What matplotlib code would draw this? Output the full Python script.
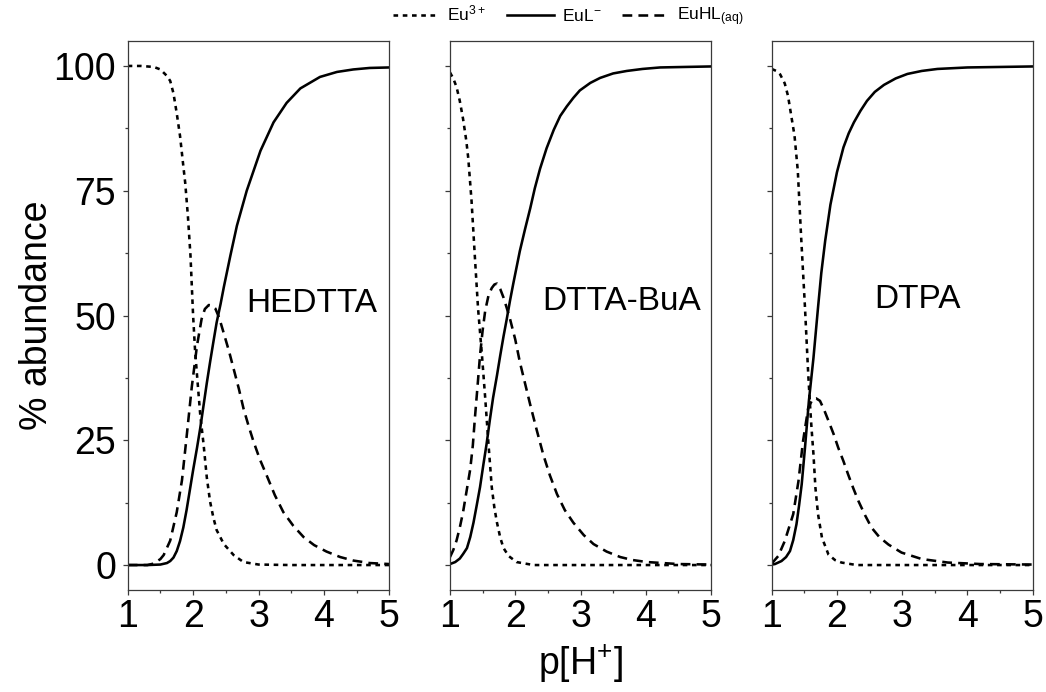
import matplotlib
matplotlib.use("Agg")
import matplotlib.pyplot as plt
from matplotlib.lines import Line2D
from matplotlib.ticker import MultipleLocator

plt.rcParams['font.family'] = ['Liberation Sans', 'DejaVu Sans']
plt.rcParams['mathtext.default'] = 'regular'

# ---------------- data ----------------
panel_names = ["HEDTTA", "DTTA-BuA", "DTPA"]
series_labels = ["Eu$^{3+}$", "EuL$^{-}$", "EuHL$_{(aq)}$"]
x_ticks = [1, 2, 3, 4, 5]
y_ticks = [0, 25, 50, 75, 100]

# HEDTTA
hed_eu_x = [1.0, 1.2, 1.4, 1.5, 1.6, 1.65, 1.7, 1.75, 1.8, 1.85, 1.88, 1.92, 1.96, 2.0, 2.03, 2.07,
            2.11, 2.16, 2.21, 2.26, 2.31, 2.36, 2.47, 2.62, 2.77, 3.0, 3.5, 4.0, 4.5, 5.0]
hed_eu_y = [100, 100, 99.8, 99.3, 98, 97, 94.5, 90.5, 86, 80, 76.5, 70, 62, 50, 43, 36.4,
            30, 24.2, 17.5, 12.7, 9.5, 7, 4.2, 2, 0.6, 0.1, 0, 0, 0, 0]
hed_l_x = [1.0, 1.3, 1.5, 1.6, 1.65, 1.7, 1.75, 1.8, 1.85, 1.9, 1.95, 2.0, 2.06, 2.11, 2.16, 2.21,
           2.26, 2.31, 2.36, 2.42, 2.47, 2.57, 2.67, 2.82, 3.03, 3.23, 3.43, 3.64, 3.94, 4.2, 4.45,
           4.7, 5.0]
hed_l_y = [0, 0, 0.1, 0.4, 0.8, 1.5, 2.8, 4.8, 7.5, 11, 15, 19, 23.5, 27.5, 32, 36.5,
           40.7, 44.7, 48.6, 52.3, 55.7, 62, 68, 75, 83, 88.7, 92.6, 95.5, 97.8, 98.8, 99.3,
           99.6, 99.7]
hed_hl_x = [1.0, 1.3, 1.4, 1.5, 1.55, 1.65, 1.75, 1.83, 1.9, 1.98, 2.06, 2.13, 2.18, 2.24, 2.29, 2.34,
            2.4, 2.47, 2.55, 2.62, 2.7, 2.77, 2.85, 2.92, 3.02, 3.13, 3.25, 3.38, 3.53, 3.69, 3.85,
            4.04, 4.25, 4.45, 4.7, 5.0]
hed_hl_y = [0, 0, 0.3, 1.2, 2, 4.9, 10.6, 17, 25.6, 35.7, 44, 49.3, 51.3, 52.1, 52, 51.4,
            49.5, 46.4, 42.8, 39.3, 35.3, 31.4, 27.8, 24.9, 21.2, 17.8, 14, 10.6, 7.9, 5.6, 4.0,
            2.7, 1.6, 0.9, 0.4, 0.2]

# DTTA-BuA
bua_eu_x = [1.0, 1.05, 1.1, 1.15, 1.2, 1.25, 1.28, 1.33, 1.38, 1.43, 1.49, 1.54, 1.59, 1.64, 1.68,
            1.72, 1.77, 1.82, 1.9, 2.02, 2.28, 3.0, 4.0, 5.0]
bua_eu_y = [98.7, 97.5, 95.8, 93, 89.4, 85, 81.5, 73, 62, 51.4, 42, 33.4, 24.2, 15.6, 11.5,
            8.5, 5.5, 3.4, 1.8, 0.6, 0, 0, 0, 0]
bua_l_x = [1.0, 1.08, 1.15, 1.2, 1.26, 1.31, 1.36, 1.41, 1.46, 1.51, 1.56, 1.61, 1.66, 1.72, 1.77,
           1.82, 1.87, 1.92, 1.97, 2.07, 2.15, 2.23, 2.3, 2.38, 2.48, 2.59, 2.69, 2.79, 2.89, 2.99,
           3.15, 3.3, 3.5, 3.71, 3.95, 4.22, 4.6, 5.0]
bua_l_y = [0.2, 0.6, 1.3, 2.2, 3.4, 5.6, 8.5, 12, 15.6, 20, 24.2, 29, 33.5, 38, 42,
           45.8, 49.3, 53, 56.4, 62.9, 67.3, 71.5, 75.5, 79.4, 83.5, 87.2, 90, 91.9, 93.6, 95.1,
           96.6, 97.6, 98.5, 99, 99.4, 99.7, 99.8, 99.9]
bua_hl_x = [1.0, 1.05, 1.1, 1.15, 1.2, 1.25, 1.31, 1.35, 1.38, 1.42, 1.46, 1.5, 1.54, 1.59, 1.64,
            1.68, 1.72, 1.77, 1.82, 1.87, 1.92, 2.0, 2.07, 2.15, 2.23, 2.33, 2.43, 2.53, 2.64, 2.76,
            2.89, 3.05, 3.2, 3.4, 3.61, 3.8, 4.02, 4.5, 5.0]
bua_hl_y = [1.6, 3, 4.9, 7.5, 10.6, 14.5, 19.2, 24, 29.2, 35.5, 42, 47, 51, 54, 55.5,
            56.2, 56.4, 55.3, 53.6, 51.5, 49.3, 45.2, 40.7, 36.4, 32.1, 27, 22.1, 18, 14.2, 11,
            8.5, 6, 4.2, 2.7, 1.6, 1, 0.6, 0.2, 0.1]

# DTPA
dtpa_eu_x = [1.0, 1.07, 1.13, 1.2, 1.25, 1.3, 1.35, 1.4, 1.45, 1.51, 1.56, 1.59, 1.61, 1.64, 1.67,
             1.71, 1.77, 1.87, 1.97, 2.07, 2.3, 3.0, 4.0, 5.0]
dtpa_eu_y = [99.4, 99, 98.3, 96.5, 94, 90, 86, 79, 66, 51.6, 38.2, 31.5, 27.5, 22.2, 15.5,
             10.2, 5.5, 2.1, 1.0, 0.5, 0, 0, 0, 0]
dtpa_l_x = [1.0, 1.05, 1.15, 1.22, 1.28, 1.33, 1.38, 1.42, 1.46, 1.51, 1.57, 1.64, 1.71, 1.76,
            1.82, 1.9, 2.0, 2.1, 2.18, 2.26, 2.36, 2.46, 2.58, 2.72, 2.9, 3.08, 3.3, 3.54, 4.0, 5.0]
dtpa_l_y = [0.1, 0.2, 0.8, 1.6, 2.8, 5, 8.2, 12, 16.2, 23.5, 32.9, 41.5, 51.6, 58.5,
            65, 72.2, 78.7, 83.7, 86.5, 88.7, 91, 93, 94.8, 96.2, 97.5, 98.4, 99, 99.4, 99.7, 99.9]
dtpa_hl_x = [1.0, 1.1, 1.2, 1.33, 1.41, 1.48, 1.56, 1.63, 1.68, 1.74, 1.8, 1.87, 1.95, 2.02, 2.1,
             2.17, 2.25, 2.33, 2.43, 2.53, 2.65, 2.79, 2.99, 3.3, 3.7, 4.2, 5.0]
dtpa_hl_y = [0.3, 1.8, 4.8, 10.2, 16.8, 24.8, 31.5, 33.3, 33.4, 32.9, 31.2, 28.9, 26.2, 23.5, 20.8,
             18.2, 15.4, 12.8, 10, 7.5, 5.6, 4.1, 2.5, 1.2, 0.5, 0.2, 0.1]

panels = [
    [(hed_eu_x, hed_eu_y), (hed_l_x, hed_l_y), (hed_hl_x, hed_hl_y)],
    [(bua_eu_x, bua_eu_y), (bua_l_x, bua_l_y), (bua_hl_x, bua_hl_y)],
    [(dtpa_eu_x, dtpa_eu_y), (dtpa_l_x, dtpa_l_y), (dtpa_hl_x, dtpa_hl_y)],
]
label_pos = [(3.81, 52.5), (3.63, 52.9), (3.23, 53.3)]

# ---------------- styling ----------------
styles = [(0, (1.8, 1.8)), '-', (0, (3.8, 2.4))]
LW = 1.85
spine_c = '#3a3a3a'

fig = plt.figure(figsize=(10.46, 6.92), dpi=100)
W, H = 1046, 692
lefts = [127.7, 450.0, 771.7]
widths = [261.6, 261.0, 261.0]
bottom_px, top_px = 590, 41

for i, (data, name, lp) in enumerate(zip(panels, panel_names, label_pos)):
    ax = fig.add_axes([lefts[i] / W, (H - bottom_px) / H, widths[i] / W, (bottom_px - top_px) / H])
    for (xs, ys), ls in zip(data, styles):
        ax.plot(xs, ys, color='black', lw=LW, linestyle=ls)
    ax.set_xlim(1, 5)
    ax.set_ylim(-5, 105)
    ax.set_xticks(x_ticks)
    ax.set_yticks(y_ticks)
    ax.xaxis.set_minor_locator(MultipleLocator(0.5))
    ax.yaxis.set_minor_locator(MultipleLocator(12.5))
    ax.tick_params(which='both', direction='out', color=spine_c, width=0.9,
                   top=False, right=False, labelsize=27)
    ax.tick_params(which='major', length=3.4)
    ax.tick_params(which='minor', length=2.4)
    ax.tick_params(axis='y', pad=5)
    ax.tick_params(axis='x', pad=3)
    if i > 0:
        ax.tick_params(axis='y', labelleft=False)
    for s in ax.spines.values():
        s.set_color(spine_c)
        s.set_linewidth(0.9)
    ax.text(lp[0], lp[1], name, fontsize=24, ha='center', va='center')

fig.text(37 / W, 1 - 315 / H, "% abundance", rotation=90, fontsize=27, ha='center', va='center')
fig.text(580 / W, 1 - 664 / H, "p[H$^{+}$]", fontsize=27, ha='center', va='center')

handles = [Line2D([], [], color='black', lw=LW, linestyle=ls) for ls in styles]
fig.legend(handles, series_labels, loc='center', bbox_to_anchor=(568 / W, 1 - 16 / H),
           ncol=3, frameon=False, fontsize=12.5, handlelength=2.7, handletextpad=0.45,
           columnspacing=1.2, borderpad=0, borderaxespad=0)

fig.savefig("out.png", dpi=100)
